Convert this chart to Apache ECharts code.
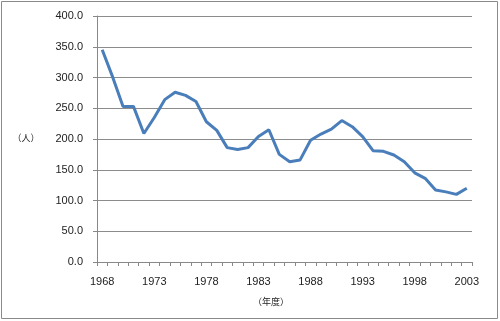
<!DOCTYPE html>
<html><head><meta charset="utf-8">
<script src="https://cdn.jsdelivr.net/npm/echarts@6/dist/echarts.min.js"></script>
<style>html,body{margin:0;padding:0;background:#fff}#c{width:500px;height:321px}</style>
</head><body><div id="c"></div>
<script>
const years = ['1968','1969','1970','1971','1972','1973','1974','1975','1976','1977','1978','1979','1980','1981','1982','1983','1984','1985','1986','1987','1988','1989','1990','1991','1992','1993','1994','1995','1996','1997','1998','1999','2000','2001','2002','2003'];
const values = [345,301,253,253,209,235,264,276,271,261,228,214,186,183,186,204,215,175,163,166,198,208,216,230,220,204,181,180,174,163,145,136,117,114,110,120];
const yName = '（人）';
const xName = '（年度）';

const chart = echarts.init(document.getElementById('c'), null, {renderer:'canvas'});
const font = '"Liberation Sans", Arial, sans-serif';
chart.setOption({
  animation:false,
  backgroundColor:'#fff',
  grid:{left:97,right:28,top:16,bottom:59,containLabel:false},
  xAxis:{
    type:'category', data:years, boundaryGap:true,
    axisLine:{lineStyle:{color:'#888',width:1}},
    axisTick:{show:true,interval:0,length:4,lineStyle:{color:'#888'}},
    axisLabel:{interval:4,color:'#222',fontSize:11,fontFamily:font,margin:14},
    splitLine:{show:false}
  },
  yAxis:{
    type:'value', min:0, max:400, interval:50,
    axisLine:{show:true,lineStyle:{color:'#888',width:1}},
    axisTick:{show:true,length:4,lineStyle:{color:'#888'}},
    axisLabel:{color:'#222',fontSize:11,fontFamily:font,margin:14,formatter:v=>v.toFixed(1)},
    splitLine:{lineStyle:{color:'#8c8c8c',width:1}}
  },
  series:[{type:'line',data:values,symbol:'none',smooth:false,
    lineStyle:{color:'#4a7ebb',width:3}}],
  graphic:[
    {type:'rect',shape:{x:1.5,y:1.5,width:496,height:317},style:{fill:'none',stroke:'#8a8a8a',lineWidth:1},silent:true},
    {type:'text',x:26,y:138,style:{text:yName,font:'9px "Noto Sans CJK JP"',fill:'#222',textAlign:'center',textVerticalAlign:'middle'}},
    {type:'text',x:271,y:302,style:{text:xName,font:'9px "Noto Sans CJK JP"',fill:'#222',textAlign:'center',textVerticalAlign:'middle'}}
  ]
});
</script></body></html>
